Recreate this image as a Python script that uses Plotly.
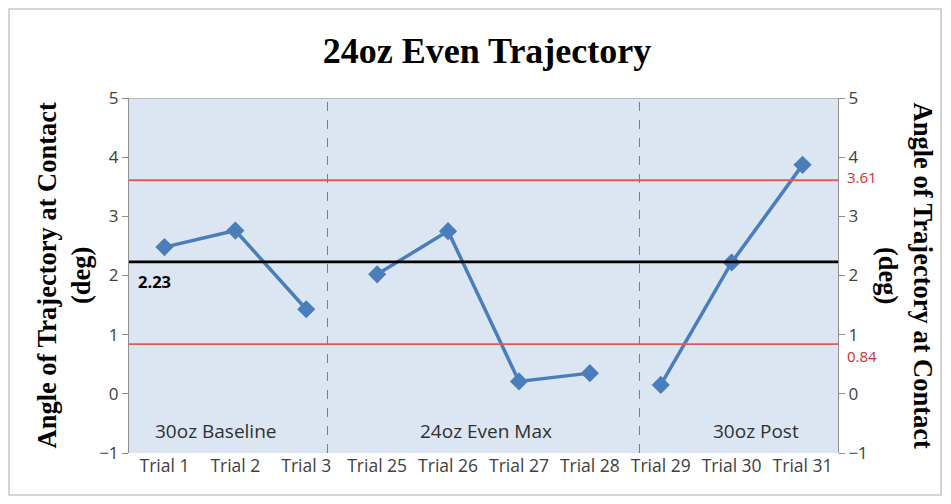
import plotly.graph_objects as go

# data
trials = ["Trial 1", "Trial 2", "Trial 3", "Trial 25", "Trial 26",
          "Trial 27", "Trial 28", "Trial 29", "Trial 30", "Trial 31"]
angles = [2.48, 2.76, 1.43, 2.02, 2.75, 0.21, 0.35, 0.15, 2.22, 3.87]
group_names = ["30oz Baseline", "24oz Even Max", "30oz Post"]
group_sizes = [3, 4, 3]
mean_value = 2.23
upper_limit = 3.61
lower_limit = 0.84
y_ticks = [-1, 0, 1, 2, 3, 4, 5]

BLUE = "#4a7ebb"
RED = "#e05a5a"
TICK_FONT = dict(family="Open Sans", size=17.5, color="#404040")
SERIF_BOLD = "Liberation Serif"

# page body adds 8px around the figure, so the figure is 16px smaller
W, H = 935, 488
L, R, T, B = 121, 105, 90, 43
PW, PH = W - L - R, H - T - B

fig = go.Figure()

# one line per phase so the phases are not joined
start = 0
for size in group_sizes:
    fig.add_trace(go.Scatter(
        x=trials[start:start + size], y=angles[start:start + size],
        mode="lines+markers",
        line=dict(color=BLUE, width=3.5),
        marker=dict(symbol="diamond", size=14, color=BLUE),
        showlegend=False, hoverinfo="x+y",
    ))
    start += size

# invisible trace so the right axis is drawn
fig.add_trace(go.Scatter(x=[trials[0]], y=[0], yaxis="y2", mode="markers",
                         marker=dict(opacity=0), showlegend=False, hoverinfo="skip"))

# reference lines
for val, col, w in [(upper_limit, RED, 1.8), (lower_limit, RED, 1.8), (mean_value, "black", 2.6)]:
    fig.add_shape(type="line", xref="paper", x0=0, x1=1, y0=val, y1=val,
                  line=dict(color=col, width=w))

# phase separators and phase labels
sep_pos = [2.3, 6.7]
for xp in sep_pos:
    fig.add_shape(type="line", x0=xp, x1=xp, y0=-1, y1=5,
                  line=dict(color="#5a80bd", width=1, dash="dash"))
label_x = [0.72, 4.54, 8.34]
for name, xp in zip(group_names, label_x):
    fig.add_annotation(x=xp, y=-0.63, text=name, showarrow=False,
                       font=dict(family="Open Sans", size=19, color="#303030"))

# top border of the plot area
fig.add_shape(type="line", xref="paper", x0=0, x1=1, y0=5, y1=5,
              line=dict(color="#909090", width=1))

fig.add_annotation(xref="paper", x=0.01, y=mean_value - 0.33, text="<b>2.23</b>",
                   showarrow=False, xanchor="left",
                   font=dict(family="Open Sans", size=16.5, color="black"))
fig.add_annotation(xref="paper", x=1.01, y=upper_limit + 0.05, text=f"{upper_limit:.2f}",
                   showarrow=False, xanchor="left", yanchor="middle",
                   font=dict(family="Open Sans", size=15, color="#d03030"))
fig.add_annotation(xref="paper", x=1.01, y=lower_limit - 0.2, text=f"{lower_limit:.2f}",
                   showarrow=False, xanchor="left", yanchor="middle",
                   font=dict(family="Open Sans", size=15, color="#d03030"))

# axis titles (left reads upward, right reads downward)
axis_title = "Angle of Trajectory at Contact<br>(deg)"
fig.add_annotation(xref="paper", yref="paper", x=-66 / PW, y=0.5, text=f"<b>{axis_title}</b>",
                   textangle=-90, showarrow=False, xanchor="center",
                   font=dict(family=SERIF_BOLD, size=26.5, color="black"))
fig.add_annotation(xref="paper", yref="paper", x=1 + 68 / PW, y=0.5, text=f"<b>{axis_title}</b>",
                   textangle=90, showarrow=False, xanchor="center",
                   font=dict(family=SERIF_BOLD, size=26.5, color="black"))

axis_common = dict(range=[-1, 5], tickvals=y_ticks, showgrid=False, zeroline=False,
                   showline=True, linecolor="#909090", linewidth=1,
                   ticks="outside", ticklen=6, tickcolor="#909090",
                   tickfont=dict(family="Open Sans", size=17, color="#404040"))

fig.update_layout(
    width=W, height=H,
    title=dict(text="<b>24oz Even Trajectory</b>", x=(487 - 8) / W, xanchor="center",
               y=1 - 42 / H, yanchor="middle",
               font=dict(family=SERIF_BOLD, size=36, color="black")),
    margin=dict(l=L, r=R, t=T, b=B),
    plot_bgcolor="#dce6f2", paper_bgcolor="white",
    xaxis=dict(type="category", categoryorder="array", categoryarray=trials,
               range=[-0.5, 9.5], showgrid=False, zeroline=False, showline=False,
               ticks="", tickfont=TICK_FONT),
    yaxis=axis_common,
    yaxis2=dict(overlaying="y", side="right", **axis_common),
)

# light frame around the whole chart
fig.add_shape(type="rect", xref="paper", yref="paper",
              x0=-(L - 1) / PW, x1=(PW + R - 2) / PW, y0=-(B - 1) / PH, y1=(PH + T - 1) / PH,
              line=dict(color="#c8c8c8", width=1.5))

fig.write_html("out.html")
